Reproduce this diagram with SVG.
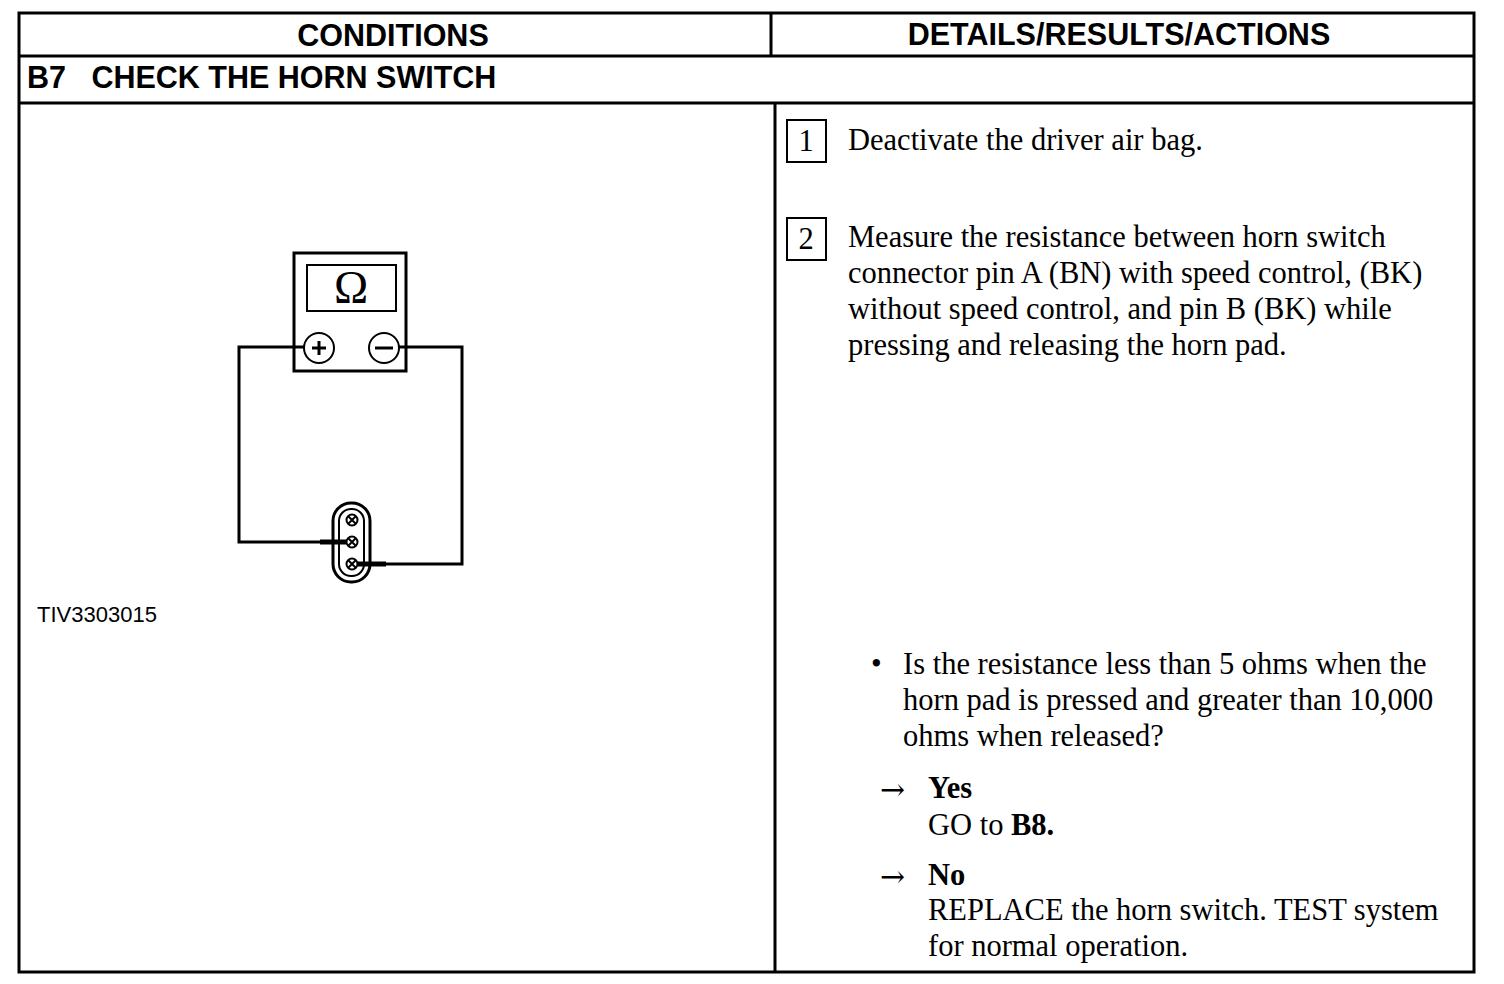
<svg xmlns="http://www.w3.org/2000/svg" width="1504" height="984" viewBox="0 0 1504 984">
<style>
.frame{fill:none;stroke:#000;stroke-width:3}
.hdr{font-family:"Liberation Sans",Arial,sans-serif;font-weight:bold;font-size:30.5px;fill:#000}
.body{font-family:"Liberation Serif","Times New Roman",serif;font-size:30.5px;fill:#000}
.b{font-weight:bold}
.arr{font-family:"DejaVu Serif",serif;font-size:30px;fill:#000}
.wire{fill:none;stroke:#000;stroke-width:3}
.thin{fill:none;stroke:#000;stroke-width:2}
</style>
<rect width="1504" height="984" fill="#fff"/>
<g id="table">
<rect class="frame" x="19" y="13" width="1455" height="959"/>
<line class="frame" x1="19" y1="56" x2="1474" y2="56"/>
<line class="frame" x1="771" y1="13" x2="771" y2="56"/>
<line class="frame" x1="19" y1="103" x2="1474" y2="103"/>
<line class="frame" x1="775" y1="103" x2="775" y2="972"/>
<text class="hdr" x="393" y="46" text-anchor="middle">CONDITIONS</text>
<text class="hdr" x="1119" y="45" text-anchor="middle">DETAILS/RESULTS/ACTIONS</text>
<text class="hdr" x="27" y="88" xml:space="preserve">B7   CHECK THE HORN SWITCH</text>
</g>
<g id="meter">
<rect x="294" y="253" width="112" height="118" fill="#fff" stroke="#000" stroke-width="3"/>
<rect class="thin" x="307" y="265" width="89" height="46"/>
<text x="351" y="303" text-anchor="middle" font-family="Liberation Serif,serif" font-size="46">Ω</text>
<circle class="thin" cx="319" cy="348" r="15"/>
<circle class="thin" cx="384" cy="348" r="15"/>
<line x1="312" y1="348" x2="326" y2="348" stroke="#000" stroke-width="3"/>
<line x1="319" y1="341" x2="319" y2="355" stroke="#000" stroke-width="3"/>
<line x1="375" y1="348" x2="393" y2="348" stroke="#000" stroke-width="3"/>
</g>
<g id="connector">
<rect x="333" y="503" width="37" height="79" rx="18" fill="#fff" stroke="#000" stroke-width="3"/>
<rect x="339" y="509" width="25" height="67" rx="12" fill="none" stroke="#000" stroke-width="2"/>
<g stroke="#000" stroke-width="2" fill="none">
<circle cx="352" cy="520" r="5.5"/><path d="M348,516 l8,8 M356,516 l-8,8"/>
<circle cx="352" cy="542" r="5.5"/><path d="M348,538 l8,8 M356,538 l-8,8"/>
<circle cx="352" cy="564" r="5.5"/><path d="M348,560 l8,8 M356,560 l-8,8"/>
</g>
</g>
<g id="connectors">
<path class="wire" d="M304,347 H239 V542 H320"/>
<path d="M320,542 H346" stroke="#000" stroke-width="5"/>
<path class="wire" d="M399,347 H462 V564 H386"/>
<path d="M386,564 H358" stroke="#000" stroke-width="5"/>
</g>
<text x="37" y="622" font-family="Liberation Sans,Arial,sans-serif" font-size="22">TIV3303015</text>
<g id="step1">
<rect class="thin" x="787" y="120" width="39" height="42"/>
<text class="body" x="806" y="151" text-anchor="middle">1</text>
<text class="body" x="848" y="150">Deactivate the driver air bag.</text>
</g>
<g id="step2">
<rect class="thin" x="787" y="218" width="39" height="42"/>
<text class="body" x="806" y="249" text-anchor="middle">2</text>
<text class="body" x="848" y="247">Measure the resistance between horn switch</text>
<text class="body" x="848" y="283">connector pin A (BN) with speed control, (BK)</text>
<text class="body" x="848" y="319">without speed control, and pin B (BK) while</text>
<text class="body" x="848" y="355">pressing and releasing the horn pad.</text>
</g>
<g id="question">
<text class="body" x="871" y="674" font-size="34">•</text>
<text class="body" x="903" y="674">Is the resistance less than 5 ohms when the</text>
<text class="body" x="903" y="710">horn pad is pressed and greater than 10,000</text>
<text class="body" x="903" y="746">ohms when released?</text>
</g>
<g id="yes">
<text class="arr" x="880" y="800">→</text>
<text class="body b" x="928" y="798">Yes</text>
<text class="body" x="928" y="835">GO to <tspan class="b">B8.</tspan></text>
</g>
<g id="no">
<text class="arr" x="880" y="887">→</text>
<text class="body b" x="928" y="885">No</text>
<text class="body" x="928" y="920">REPLACE the horn switch. TEST system</text>
<text class="body" x="928" y="956">for normal operation.</text>
</g>
</svg>
